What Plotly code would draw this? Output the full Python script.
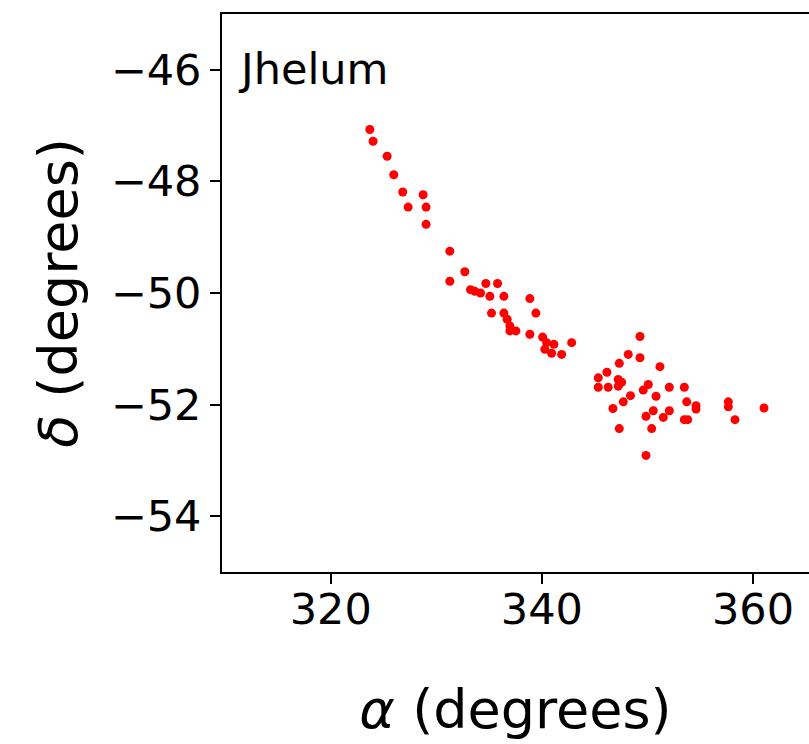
import plotly.graph_objects as go

ra = [323.70, 324.01, 325.34, 325.97, 326.82, 328.75, 327.33, 329.03, 329.03,
      331.28, 332.70, 331.28, 333.24, 333.65, 334.19, 334.69, 335.07, 335.80, 336.40,
      335.23, 336.40, 336.71, 336.97, 336.97, 337.54, 338.86, 339.43, 338.86, 340.07,
      340.45, 341.14, 340.28, 340.92, 341.87, 342.82,
      349.29, 348.18, 349.29, 347.33, 351.18, 346.16, 345.34, 347.23, 347.55, 345.34,
      346.28, 347.23, 350.08, 349.60, 352.07, 353.49, 350.81, 348.39, 347.71, 353.72,
      354.60, 354.60, 346.73, 350.55, 352.07, 349.86, 351.50, 353.49, 353.81, 347.33,
      350.40, 349.86, 357.66, 357.66, 358.29, 361.04]
dec = [-47.07, -47.28, -47.55, -47.88, -48.19, -48.24, -48.46, -48.46, -48.77,
       -49.25, -49.62, -49.79, -49.94, -49.97, -50.00, -49.83, -50.06, -49.83, -50.06,
       -50.36, -50.36, -50.47, -50.59, -50.68, -50.68, -50.10, -50.36, -50.74, -50.79,
       -50.89, -50.92, -51.01, -51.08, -51.10, -50.89,
       -50.78, -51.10, -51.16, -51.26, -51.32, -51.42, -51.52, -51.55, -51.60, -51.69,
       -51.69, -51.67, -51.64, -51.74, -51.69, -51.69, -51.85, -51.84, -51.95, -51.95,
       -52.02, -52.08, -52.07, -52.11, -52.11, -52.21, -52.23, -52.27, -52.27, -52.43,
       -52.43, -52.91, -51.95, -52.04, -52.27, -52.06]

x_ticks = [320, 340, 360]
y_ticks = [-54, -52, -50, -48, -46]
label = "Jhelum"

fig = go.Figure()
fig.add_trace(go.Scatter(x=ra, y=dec, mode="markers",
                         marker=dict(color="red", size=9, line=dict(width=0)),
                         showlegend=False))

font = "DejaVu Sans, sans-serif"
fig.update_layout(
    width=809, height=744,
    margin=dict(l=222, r=0, t=14, b=172),
    paper_bgcolor="white", plot_bgcolor="white",
    font=dict(family=font, color="black"),
    xaxis=dict(range=[309.7, 365.3], tickvals=x_ticks,
               ticktext=[str(v) for v in x_ticks],
               showgrid=False, zeroline=False, showline=True, linecolor="black",
               linewidth=2, mirror=True, ticks="outside", ticklen=10, tickwidth=2,
               tickcolor="black", tickfont=dict(size=43, family=font),
               ticklabelstandoff=-12,
               title=dict(text="<i>α</i> (degrees)", font=dict(size=54, family=font),
                          standoff=58)),
    yaxis=dict(range=[-55, -45], tickvals=y_ticks,
               ticktext=["\u2212" + str(abs(v)) for v in y_ticks],
               showgrid=False, zeroline=False, showline=True, linecolor="black",
               linewidth=2, mirror=False, ticks="outside", ticklen=10, tickwidth=2,
               tickcolor="black", tickfont=dict(size=43, family=font),
               title=dict(text="<i>δ</i> (degrees)", font=dict(size=54, family=font),
                          standoff=16)),
)
fig.add_annotation(text=label, xref="paper", yref="paper",
                   x=(236 - 222) / 587, y=1 - (42 - 14) / 558,
                   xanchor="left", yanchor="top", showarrow=False,
                   font=dict(size=43, family=font, color="black"))

fig.write_html("out.html")
